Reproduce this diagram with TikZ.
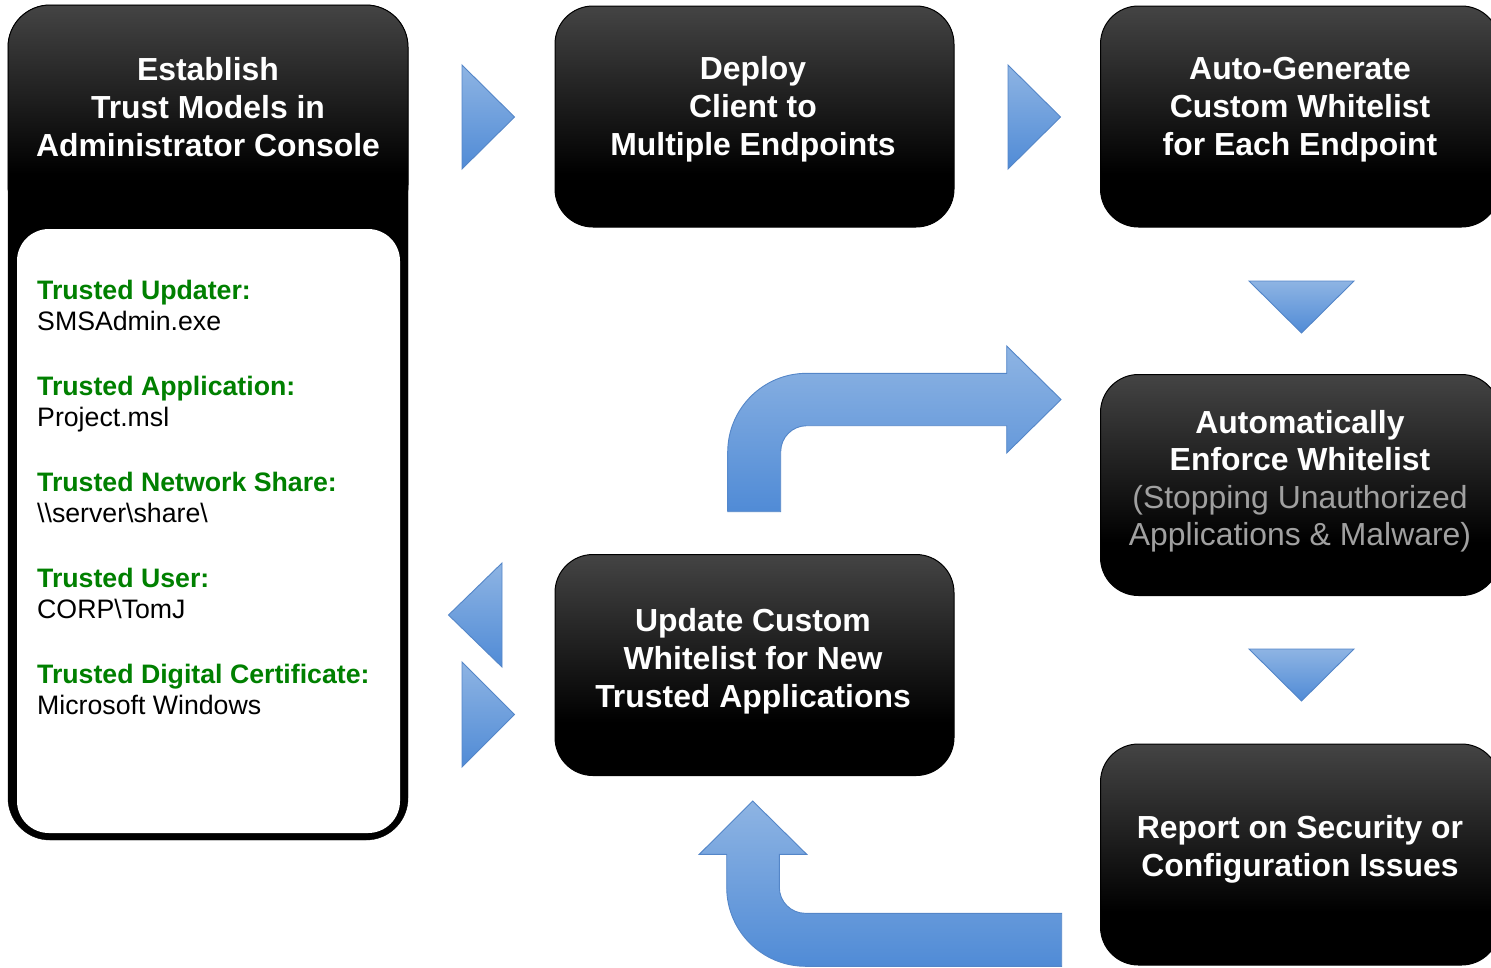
\documentclass[tikz,border=0pt]{standalone}
\usepackage{fontspec}
\setmainfont{Liberation Sans}
\definecolor{boxtop}{RGB}{68,68,68}
\definecolor{arrowtop}{RGB}{142,180,227}
\definecolor{arrowbot}{RGB}{80,139,214}
\definecolor{arrowline}{RGB}{84,134,200}
\definecolor{trustgreen}{RGB}{0,128,0}
\definecolor{notegray}{RGB}{160,160,160}
% dark grey at the top fading to black over the lower quarter
\pgfdeclareverticalshading{boxgrad}{100bp}{color(0bp)=(black); color(25bp)=(black); color(37bp)=(black); color(75bp)=(boxtop); color(100bp)=(boxtop)}
\tikzset{
  stage/.style={rectangle, rounded corners=38pt, draw=black, line width=1pt,
    shading=boxgrad, minimum width=399pt, minimum height=221pt, inner sep=0pt},
  stagetext/.style={text=white, font=\fontsize{31.9}{38}\selectfont\bfseries, anchor=base, inner sep=0pt},
  greynote/.style={text=notegray, font=\fontsize{31.9}{38}\selectfont, anchor=base, inner sep=0pt},
  tlabel/.style={text=trustgreen, font=\fontsize{26.7}{32}\selectfont\bfseries, anchor=base west, inner sep=0pt},
  tvalue/.style={text=black, font=\fontsize{26.7}{32}\selectfont, anchor=base west, inner sep=0pt},
  blockarrow/.style={top color=arrowtop, bottom color=arrowbot, draw=arrowline, line width=0.9pt, line join=miter}
}
\begin{document}
\begin{tikzpicture}[x=1pt, y=1pt]
\useasboundingbox (0,0) rectangle (1491,-967);
\clip (0,0) rectangle (1491,-967);

% ---- trust models panel ----
\node[draw=black, fill=black, rounded corners=42pt, minimum width=400pt, minimum height=835pt, inner sep=0pt] (trustframe) at (208,-422.5) {};
\node[stage, rounded corners=42pt, minimum width=400pt, minimum height=222pt] (trust) at (208,-116) {};
\node[fill=white, rounded corners=32pt, minimum width=383pt, minimum height=604pt, inner sep=0pt] (trustlist) at (208.5,-531) {};
\node[stagetext] (trustA) at (208,-80) {Establish};
\node[stagetext] (trustB) at (208,-118) {Trust Models in};
\node[stagetext] (trustC) at (208,-156) {Administrator Console};

\node[tlabel] (updL) at (37,-299) {Trusted Updater:};
\node[tvalue] (updV) at (37,-330.5) {SMSAdmin.exe};
\node[tlabel] (appL) at (37,-395) {Trusted Application:};
\node[tvalue] (appV) at (37,-426.5) {Project.msl};
\node[tlabel] (netL) at (37,-491) {Trusted Network Share:};
\node[tvalue] (netV) at (37,-522.5) {\textbackslash\textbackslash server\textbackslash share\textbackslash};
\node[tlabel] (usrL) at (37,-587) {Trusted User:};
\node[tvalue] (usrV) at (37,-618.5) {CORP\textbackslash TomJ};
\node[tlabel] (crtL) at (37,-683) {Trusted Digital Certificate:};
\node[tvalue] (crtV) at (37,-714.5) {Microsoft Windows};

% ---- stage boxes ----
\node[stage] (deploy) at (754.5,-116.5) {};
\node[stagetext] (deployA) at (753,-79) {Deploy};
\node[stagetext] (deployB) at (753,-117) {Client to};
\node[stagetext] (deployC) at (753,-155) {Multiple Endpoints};

\node[stage] (autogen) at (1300,-116.5) {};
\node[stagetext] (autogenA) at (1300,-79) {Auto-Generate};
\node[stagetext] (autogenB) at (1300,-117) {Custom Whitelist};
\node[stagetext] (autogenC) at (1300,-155) {for Each Endpoint};

\node[stage] (enforce) at (1300,-485) {};
\node[stagetext] (enforceA) at (1300,-433) {Automatically};
\node[stagetext] (enforceB) at (1300,-470.5) {Enforce Whitelist};
\node[greynote] (enforceC) at (1300,-508) {(Stopping Unauthorized};
\node[greynote] (enforceD) at (1300,-545.5) {Applications \& Malware)};

\node[stage] (update) at (754.5,-665) {};
\node[stagetext] (updateA) at (753,-631) {Update Custom};
\node[stagetext] (updateB) at (753,-669) {Whitelist for New};
\node[stagetext] (updateC) at (753,-707) {Trusted Applications};

\node[stage] (report) at (1300,-854.5) {};
\node[stagetext] (reportA) at (1300,-838) {Report on Security or};
\node[stagetext] (reportB) at (1300,-876) {Configuration Issues};

% ---- triangular pointers ----
\path[blockarrow] (462,-65) -- (514.5,-117) -- (462,-169) -- cycle;
\path[blockarrow] (1008,-65) -- (1060.5,-117) -- (1008,-169) -- cycle;
\path[blockarrow] (1249,-281) -- (1354,-281) -- (1301.5,-333) -- cycle;
\path[blockarrow] (1249,-649) -- (1354,-649) -- (1301.5,-701) -- cycle;
\path[blockarrow] (502,-563) -- (502,-667) -- (448.5,-615) -- cycle;
\path[blockarrow] (462,-662) -- (514.5,-714.5) -- (462,-767) -- cycle;

% ---- bent block arrows ----
\path[blockarrow] (727.7,-511.7) -- (727.7,-452.3)
  arc[start angle=180, end angle=90, radius=79] -- (1006.7,-373.3)
  -- (1006.7,-346) -- (1061,-399.5) -- (1006.7,-453) -- (1006.7,-425.7)
  -- (806.7,-425.7) arc[start angle=90, end angle=180, radius=26]
  -- (780.7,-511.7) -- cycle;
\path[blockarrow] (1061.7,-913.3) -- (805.3,-913.3)
  arc[start angle=270, end angle=180, radius=26] -- (779.3,-854.3)
  -- (806.7,-854.3) -- (752.7,-801) -- (699.3,-854.3) -- (726.7,-854.3)
  -- (726.7,-887.3) arc[start angle=180, end angle=270, radius=79]
  -- (1061.7,-966.3) -- cycle;
\end{tikzpicture}
\end{document}
